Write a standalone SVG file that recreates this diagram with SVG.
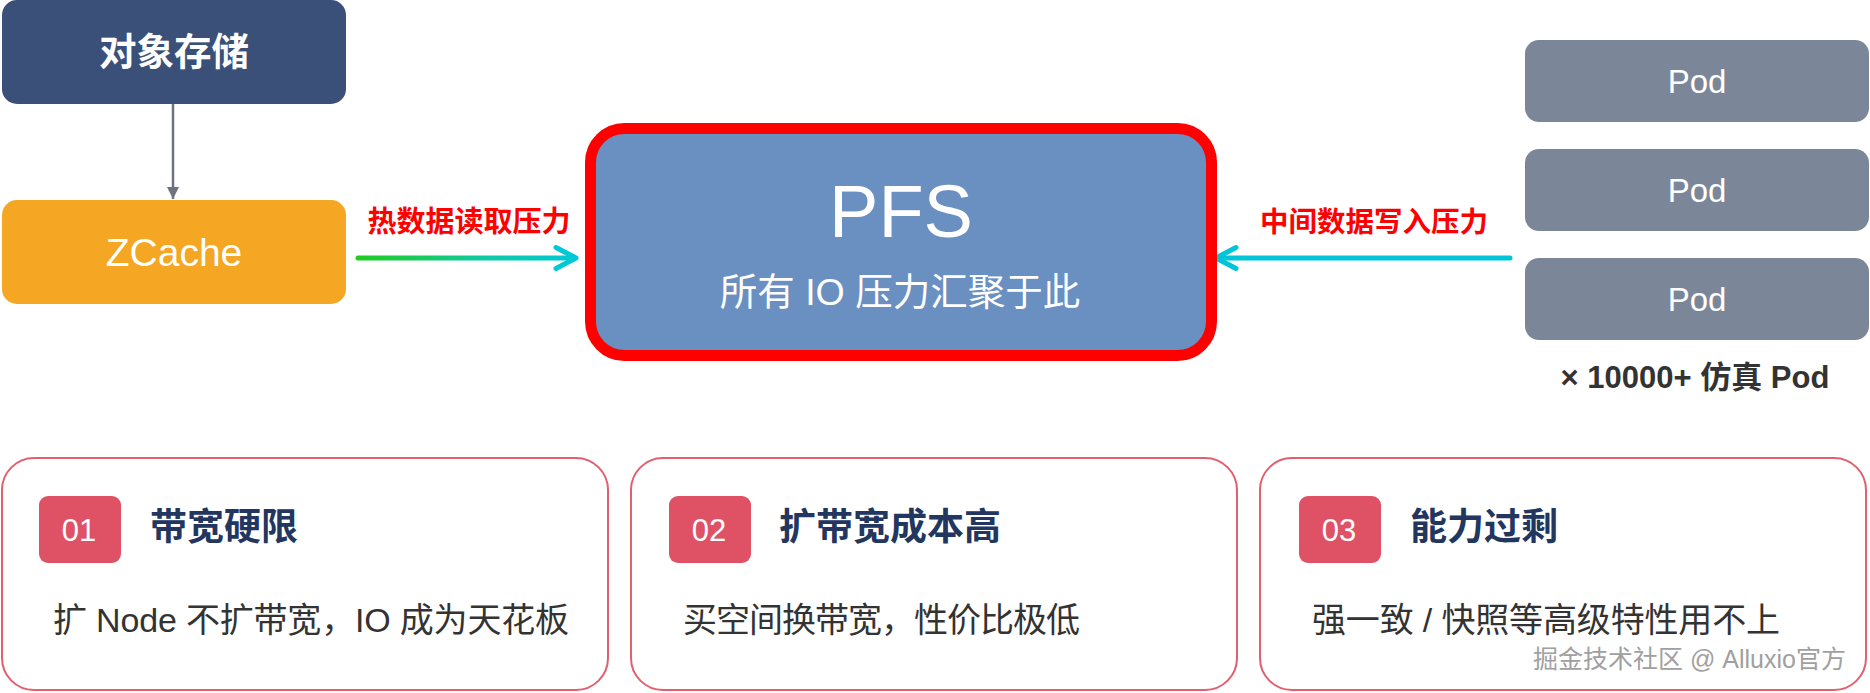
<svg xmlns="http://www.w3.org/2000/svg" width="1870" height="693" viewBox="0 0 1870 693">
<defs>
<style>
.cjk{font-family:"Liberation Sans","Noto Sans CJK SC",sans-serif}
.lat{font-family:"Liberation Sans",Arial,sans-serif}
.white{fill:#ffffff}
.pod{fill:#7b8799}
.podt{font-size:33px;fill:#ffffff;text-anchor:middle}
.card{fill:#ffffff;stroke:#e0606f;stroke-width:2}
.badge{fill:#df5265}
.badget{font-size:31px;fill:#ffffff;text-anchor:middle;font-weight:500}
.title{font-size:37px;font-weight:700;fill:#22365f}
.desc{font-size:34px;fill:#333333}
.lbl{font-size:29px;font-weight:700;fill:#ff0000;text-anchor:middle}
</style>
<linearGradient id="gradHot" x1="358" y1="0" x2="577" y2="0" gradientUnits="userSpaceOnUse">
<stop offset="0" stop-color="#1fcc1f"/>
<stop offset="0.6" stop-color="#0ccaa8"/>
<stop offset="1" stop-color="#00c8d6"/>
</linearGradient>
<marker id="triGray" viewBox="0 0 10 10" refX="10" refY="5" markerWidth="5" markerHeight="5" orient="auto" markerUnits="strokeWidth">
<path d="M0,0 L10,5 L0,10 z" fill="#6e7380"/>
</marker>
</defs>
<rect width="1870" height="693" fill="#ffffff"/>

<g id="connectors">
<line x1="173" y1="104" x2="173" y2="199" stroke="#6e7380" stroke-width="2.5" marker-end="url(#triGray)"/>
<line x1="358" y1="258" x2="574" y2="258" stroke="url(#gradHot)" stroke-width="5" stroke-linecap="round"/>
<path d="M556,247.5 L576,258 L556,268.5" fill="none" stroke="#00c8d6" stroke-width="5" stroke-linecap="round" stroke-linejoin="round"/>
<text class="cjk lbl" x="469" y="232">热数据读取压力</text>
<line x1="1510" y1="258" x2="1218" y2="258" stroke="#00c4d8" stroke-width="5" stroke-linecap="round"/>
<path d="M1236,247.5 L1216,258 L1236,268.5" fill="none" stroke="#00c4d8" stroke-width="5" stroke-linecap="round" stroke-linejoin="round"/>
<text class="cjk lbl" x="1374" y="232" style="font-size:28.5px">中间数据写入压力</text>
</g>

<g id="node-object-storage">
<rect x="2" y="0" width="344" height="104" rx="15" fill="#3a5078"/>
<text class="cjk" x="174" y="65" font-size="37.5" font-weight="700" fill="#ffffff" text-anchor="middle">对象存储</text>
</g>

<g id="node-zcache">
<rect x="2" y="200" width="344" height="104" rx="15" fill="#f5a623"/>
<text class="lat" x="174" y="266" font-size="39" fill="#ffffff" text-anchor="middle">ZCache</text>
</g>

<g id="node-pfs">
<rect x="590.5" y="128.5" width="621" height="227" rx="34" fill="#6a8fc1" stroke="#ff0000" stroke-width="11"/>
<text class="lat" x="901" y="237" font-size="74" fill="#ffffff" text-anchor="middle">PFS</text>
<text class="cjk" x="900" y="305" font-size="37.5" fill="#ffffff" text-anchor="middle">所有 IO 压力汇聚于此</text>
</g>

<g id="node-pod-1">
<rect class="pod" x="1525" y="40" width="344" height="82" rx="14"/>
<text class="lat podt" x="1697" y="93">Pod</text>
</g>
<g id="node-pod-2">
<rect class="pod" x="1525" y="149" width="344" height="82" rx="14"/>
<text class="lat podt" x="1697" y="202">Pod</text>
</g>
<g id="node-pod-3">
<rect class="pod" x="1525" y="258" width="344" height="82" rx="14"/>
<text class="lat podt" x="1697" y="311">Pod</text>
</g>
<g id="pod-caption">
<text class="cjk" x="1695" y="388" font-size="31" font-weight="600" fill="#333333" text-anchor="middle">× 10000+ 仿真 Pod</text>
</g>

<g id="card-1">
<rect class="card" x="2" y="458" width="606" height="232" rx="32"/>
<rect class="badge" x="39" y="496" width="82" height="67" rx="9"/>
<text class="lat badget" x="79" y="541">01</text>
<text class="cjk title" x="150" y="540">带宽硬限</text>
<text class="cjk desc" x="53" y="632" textLength="516" lengthAdjust="spacing">扩 Node 不扩带宽，IO 成为天花板</text>
</g>

<g id="card-2">
<rect class="card" x="631" y="458" width="606" height="232" rx="32"/>
<rect class="badge" x="669" y="496" width="82" height="67" rx="9"/>
<text class="lat badget" x="709" y="541">02</text>
<text class="cjk title" x="779" y="540">扩带宽成本高</text>
<text class="cjk desc" x="683" y="632" textLength="397" lengthAdjust="spacing">买空间换带宽，性价比极低</text>
</g>

<g id="card-3">
<rect class="card" x="1260" y="458" width="606" height="232" rx="32"/>
<rect class="badge" x="1299" y="496" width="82" height="67" rx="9"/>
<text class="lat badget" x="1339" y="541">03</text>
<text class="cjk title" x="1410" y="540">能力过剩</text>
<text class="cjk desc" x="1312" y="632" textLength="468" lengthAdjust="spacing">强一致 / 快照等高级特性用不上</text>
</g>

<g id="watermark">
<text class="cjk" x="1533" y="668" font-size="25" fill="#a0a0a0" stroke="#ffffff" stroke-width="0.6" paint-order="stroke">掘金技术社区 @ Alluxio官方</text>
</g>
</svg>
